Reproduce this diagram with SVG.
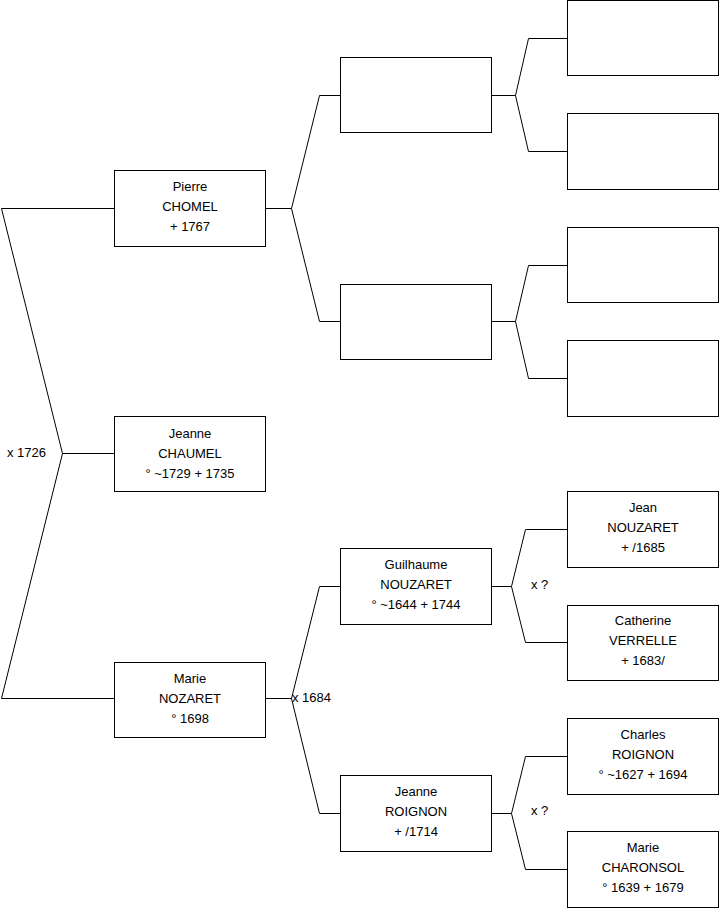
<svg xmlns="http://www.w3.org/2000/svg" width="719" height="908" viewBox="0 0 719 908">
<style>
rect{fill:#fff;stroke:#000;stroke-width:1}
path{fill:none;stroke:#000;stroke-width:1}
text{font-family:"Liberation Sans",Arial,sans-serif;font-size:13px;fill:#000}
.c{text-anchor:middle}
</style>
<rect x="0" y="0" width="719" height="908" style="stroke:none"/>
<g id="connectors">
<path d="M114 208.5H1.5L62.5 453.5L1.5 698.5H114M62.5 453.5H114"/>
<path d="M265 208.5H291.5L319.5 95.5H341M291.5 208.5L319.5 321.5H341"/>
<path d="M265 698.5H291.5L319.5 586.5H341M291.5 698.5L319.5 813.5H341"/>
<path d="M492 95.5H515.5L528.5 38.5H567M515.5 95.5L528.5 151.5H567"/>
<path d="M492 321.5H515.5L528.5 265.5H567M515.5 321.5L528.5 378.5H567"/>
<path d="M492 586.5H511.5L525.5 529.5H567M511.5 586.5L525.5 642.5H567"/>
<path d="M492 813.5H511.5L525.5 756.5H567M511.5 813.5L525.5 869.5H567"/>
<text x="7" y="457">x 1726</text>
<text x="292" y="702">x 1684</text>
<text x="531" y="589">x ?</text>
<text x="531" y="815">x ?</text>
</g>
<g id="pierre"><rect x="114.5" y="170.5" width="151" height="76"/><text class="c" x="190" y="191">Pierre</text><text class="c" x="190" y="211">CHOMEL</text><text class="c" x="190" y="231"> + 1767</text></g>
<g id="jeanne-chaumel"><rect x="114.5" y="416.5" width="151" height="75"/><text class="c" x="190" y="438">Jeanne</text><text class="c" x="190" y="458">CHAUMEL</text><text class="c" x="190" y="478">° ~1729 + 1735</text></g>
<g id="marie-nozaret"><rect x="114.5" y="662.5" width="151" height="75"/><text class="c" x="190" y="683">Marie</text><text class="c" x="190" y="703">NOZARET</text><text class="c" x="190" y="723">° 1698</text></g>
<g id="f1"><rect x="340.5" y="57.5" width="151" height="75"/></g>
<g id="m1"><rect x="340.5" y="284.5" width="151" height="75"/></g>
<g id="guilhaume"><rect x="340.5" y="548.5" width="151" height="76"/><text class="c" x="416" y="569">Guilhaume</text><text class="c" x="416" y="589">NOUZARET</text><text class="c" x="416" y="609">° ~1644 + 1744</text></g>
<g id="jeanne-roignon"><rect x="340.5" y="775.5" width="151" height="76"/><text class="c" x="416" y="796">Jeanne</text><text class="c" x="416" y="816">ROIGNON</text><text class="c" x="416" y="836"> + /1714</text></g>
<g id="ff"><rect x="567.5" y="0.5" width="151" height="75"/></g>
<g id="fm"><rect x="567.5" y="113.5" width="151" height="76"/></g>
<g id="mf"><rect x="567.5" y="227.5" width="151" height="75"/></g>
<g id="mm"><rect x="567.5" y="340.5" width="151" height="76"/></g>
<g id="jean"><rect x="567.5" y="491.5" width="151" height="76"/><text class="c" x="643" y="512">Jean</text><text class="c" x="643" y="532">NOUZARET</text><text class="c" x="643" y="552"> + /1685</text></g>
<g id="catherine"><rect x="567.5" y="605.5" width="151" height="75"/><text class="c" x="643" y="625">Catherine</text><text class="c" x="643" y="645">VERRELLE</text><text class="c" x="643" y="665"> + 1683/</text></g>
<g id="charles"><rect x="567.5" y="718.5" width="151" height="76"/><text class="c" x="643" y="739">Charles</text><text class="c" x="643" y="759">ROIGNON</text><text class="c" x="643" y="779">° ~1627 + 1694</text></g>
<g id="marie-charonsol"><rect x="567.5" y="831.5" width="151" height="76"/><text class="c" x="643" y="852">Marie</text><text class="c" x="643" y="872">CHARONSOL</text><text class="c" x="643" y="892">° 1639 + 1679</text></g>
</svg>
